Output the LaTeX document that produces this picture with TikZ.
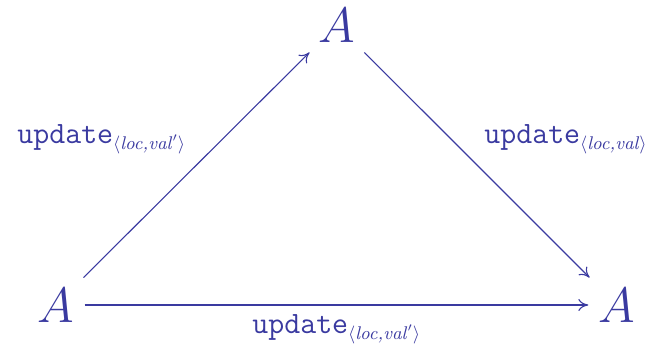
\documentclass[tikz,border=0pt]{standalone}
\usetikzlibrary{arrows.meta}
\definecolor{ink}{RGB}{58,58,160}
\newcommand{\subsc}[1]{\raisebox{-3pt}{\fontsize{9.2}{9.2}\selectfont$\langle$\textit{#1}$\rangle$}}
\begin{document}
\begin{tikzpicture}[x=0.5pt,y=-0.5pt,
  obj/.style={text=ink,inner sep=5pt,anchor=base,font=\fontsize{23}{23}\selectfont},
  lab/.style={text=ink,inner sep=0pt,anchor=base west,font=\fontsize{15.5}{15.5}\selectfont},
  arr/.style={draw=ink,line width=0.55pt,-{To[length=5pt,width=6pt]}}]
\useasboundingbox (0,0) rectangle (653,348);
\node[obj] (T) at (337,42) {$A$};
\node[obj] (L) at (56,322) {$A$};
\node[obj] (R) at (617,322) {$A$};
\draw[arr] (L) -- (T);
\draw[arr] (T) -- (R);
\draw[arr] (L) -- (R);
\node[lab] (l1) at (17,143) {\texttt{update}\subsc{loc,val\kern0.5pt$'$}};
\node[lab] (l2) at (484,143) {\texttt{update}\subsc{loc,val}};
\node[lab] (l3) at (252,333) {\texttt{update}\subsc{loc,val\kern0.5pt$'$}};
\end{tikzpicture}
\end{document}
